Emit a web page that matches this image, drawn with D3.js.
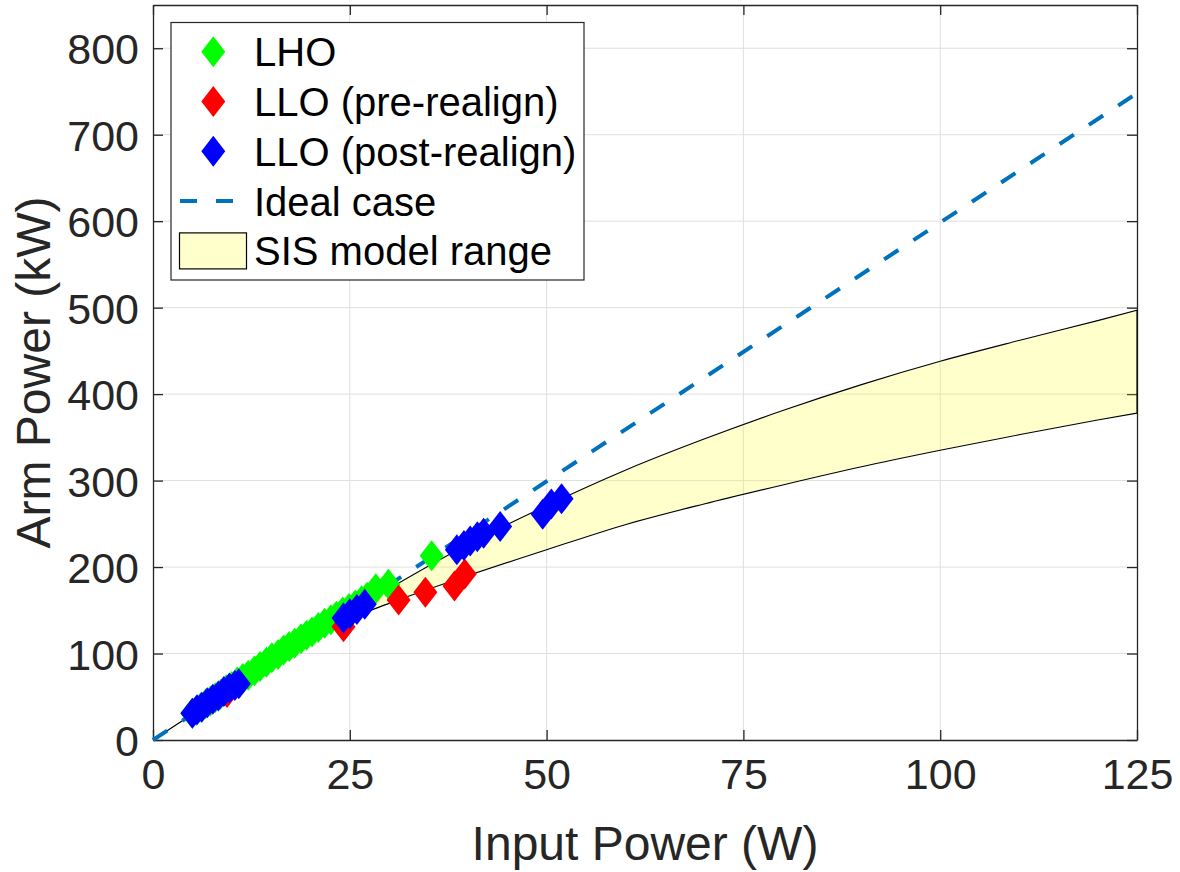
<!DOCTYPE html>
<html>
<head>
<meta charset="utf-8">
<script src="https://cdn.jsdelivr.net/npm/d3@7"></script>
<style>
  html, body { margin: 0; padding: 0; background: #fff; }
  svg { display: block; font-family: "Liberation Sans", Arial, sans-serif; }
</style>
</head>
<body>
<div id="chart"></div>
<script>
// values
const xTicks = [0, 25, 50, 75, 100, 125];
const yTicks = [0, 100, 200, 300, 400, 500, 600, 700, 800];

const lhoP = [5.0, 5.5, 6.1, 6.7, 7.3, 7.9, 8.6, 9.3, 10.0, 10.7, 11.4, 12.1, 12.9, 13.6, 14.4, 15.1, 15.9, 16.6, 17.3, 18.0, 18.8, 19.5, 20.2, 21.0, 21.8, 22.6, 23.3, 24.1, 24.9, 25.7, 26.5, 27.2, 28.3, 29.9, 35.4];
const lhoA = [31, 34, 38, 42, 45, 49, 53, 58, 62, 67, 71, 75, 80, 85, 90, 95, 99, 104, 108, 112, 117, 121, 125, 130, 135, 139, 143, 148, 152, 156, 161, 165, 175, 180, 213];

const preP = [9.4, 24.2, 31.2, 34.6, 38.3, 39.6];
const preA = [55, 131, 162, 171, 178, 192];

const postP = [5.0, 5.6, 6.2, 6.9, 7.6, 8.3, 9.0, 9.7, 10.4, 10.9, 24.2, 25.0, 25.9, 26.9, 38.6, 39.5, 40.3, 41.2, 42.0, 44.1, 49.5, 50.6, 51.9];
const postA = [31, 35, 38, 43, 47, 51, 56, 60, 63, 65, 141, 146, 151, 157, 220, 225, 230, 235, 239, 247, 261, 273, 279];

const idealP = [0, 125];
const idealA = [0, 748];

const bandP = [0, 10, 20, 25, 30, 40, 50, 60, 70, 80, 90, 100, 110, 120, 125];
const bandUpper = [0, 60, 119, 148, 175, 226, 271, 312, 348, 381, 411, 438, 462, 485, 497];
const bandLower = [0, 59, 115, 140, 158, 190, 220, 249, 273, 295, 316, 335, 353, 370, 378];

const legendItems = ["LHO", "LLO (pre-realign)", "LLO (post-realign)", "Ideal case", "SIS model range"];

(function () {
    const W = 1180, H = 872;
    const margin = { top: 5, right: 43, bottom: 132, left: 153 };
    const width = W - margin.left - margin.right;
    const height = H - margin.top - margin.bottom;
    const ink = "#262626";

    const svg = d3.select("#chart").append("svg")
        .attr("width", W).attr("height", H);
    const g = svg.append("g").attr("transform", `translate(${margin.left},${margin.top})`);

    const x = d3.scaleLinear().domain([0, 125]).range([0, width]);
    const y = d3.scaleLinear().domain([0, 850]).range([height, 0]);

    // grid
    g.append("g").selectAll("line.gx").data(xTicks.slice(1, -1)).enter().append("line")
        .attr("x1", d => x(d)).attr("x2", d => x(d))
        .attr("y1", 0).attr("y2", height)
        .attr("stroke", "#dfdfdf").attr("stroke-width", 1);
    g.append("g").selectAll("line.gy").data(yTicks.slice(1)).enter().append("line")
        .attr("x1", 0).attr("x2", width)
        .attr("y1", d => y(d)).attr("y2", d => y(d))
        .attr("stroke", "#dfdfdf").attr("stroke-width", 1);

    // axes with inward ticks on all sides
    const tk = 10;
    const axB = g.append("g").attr("transform", `translate(0,${height})`)
        .call(d3.axisBottom(x).tickValues(xTicks).tickSizeInner(-tk).tickSizeOuter(0).tickPadding(18));
    const axT = g.append("g")
        .call(d3.axisTop(x).tickValues(xTicks).tickSizeInner(-tk).tickSizeOuter(0).tickFormat(""));
    const axL = g.append("g")
        .call(d3.axisLeft(y).tickValues(yTicks).tickSizeInner(-tk).tickSizeOuter(0).tickPadding(14));
    const axR = g.append("g").attr("transform", `translate(${width},0)`)
        .call(d3.axisRight(y).tickValues(yTicks).tickSizeInner(-tk).tickSizeOuter(0).tickFormat(""));
    [axB, axT, axL, axR].forEach(a => {
        a.select(".domain").attr("stroke", ink).attr("stroke-width", 1.3);
        a.selectAll(".tick line").attr("stroke", ink).attr("stroke-width", 1.3);
        a.selectAll(".tick text").attr("fill", ink).attr("font-size", 43)
            .attr("font-family", "Liberation Sans, Arial, sans-serif");
    });
    axB.selectAll(".tick text").attr("dy", "0.71em");
    axL.selectAll(".tick text").attr("dy", "0.36em");

    // SIS band (smooth edges)
    const band = d3.area()
        .x((p) => x(p))
        .y0((p, i) => y(bandLower[i]))
        .y1((p, i) => y(bandUpper[i]))
        .curve(d3.curveMonotoneX);
    g.append("path")
        .attr("d", band(bandP))
        .attr("fill", "yellow").attr("fill-opacity", 0.2)
        .attr("stroke", "#000").attr("stroke-width", 1.1);

    // ideal line
    g.append("path")
        .attr("d", d3.line()(idealP.map((p, i) => [x(p), y(idealA[i])])))
        .attr("fill", "none").attr("stroke", "#0072bd")
        .attr("stroke-width", 4).attr("stroke-dasharray", "17,18");

    // diamonds
    const dw = 12, dh = 15.5;
    const diamond = `M0,${-dh}L${dw},0L0,${dh}L${-dw},0Z`;
    function series(P, A, color) {
        g.append("g").selectAll("path").data(P.map((p, i) => [p, A[i]])).enter().append("path")
            .attr("d", diamond)
            .attr("transform", d => `translate(${x(d[0])},${y(d[1])})`)
            .attr("fill", color);
    }
    series(lhoP, lhoA, "#00ff00");
    series(preP, preA, "#ff0000");
    series(postP, postA, "#0000ff");

    // axis labels
    svg.append("text")
        .attr("x", margin.left + width / 2).attr("y", 860)
        .attr("text-anchor", "middle").attr("font-size", 48).attr("fill", ink)
        .text("Input Power (W)");
    svg.append("text")
        .attr("transform", `translate(50,${margin.top + height / 2}) rotate(-90)`)
        .attr("text-anchor", "middle").attr("font-size", 48).attr("fill", ink)
        .text("Arm Power (kW)");

    // legend
    const lg = svg.append("g");
    lg.append("rect").attr("x", 171).attr("y", 22.5).attr("width", 413).attr("height", 257.5)
        .attr("fill", "#fff").attr("stroke", ink).attr("stroke-width", 1.2);
    const rowY = i => 51.7 + i * 49.8;
    const colors = ["#00ff00", "#ff0000", "#0000ff"];
    legendItems.forEach((t, i) => {
        const cy = rowY(i);
        if (i < 3) {
            lg.append("path").attr("d", diamond)
                .attr("transform", `translate(213.3,${cy})`).attr("fill", colors[i]);
        } else if (i === 3) {
            lg.append("line").attr("x1", 180).attr("x2", 234).attr("y1", cy).attr("y2", cy)
                .attr("stroke", "#0072bd").attr("stroke-width", 4).attr("stroke-dasharray", "17,19");
        } else {
            lg.append("rect").attr("x", 179.5).attr("y", cy - 18).attr("width", 67).attr("height", 36)
                .attr("fill", "#ffffcc").attr("stroke", "#000").attr("stroke-width", 1.2);
        }
        lg.append("text").attr("x", 254).attr("y", cy).attr("dy", "0.36em")
            .attr("font-size", 40).attr("fill", "#000").text(t);
    });
})();
</script>
</body>
</html>
